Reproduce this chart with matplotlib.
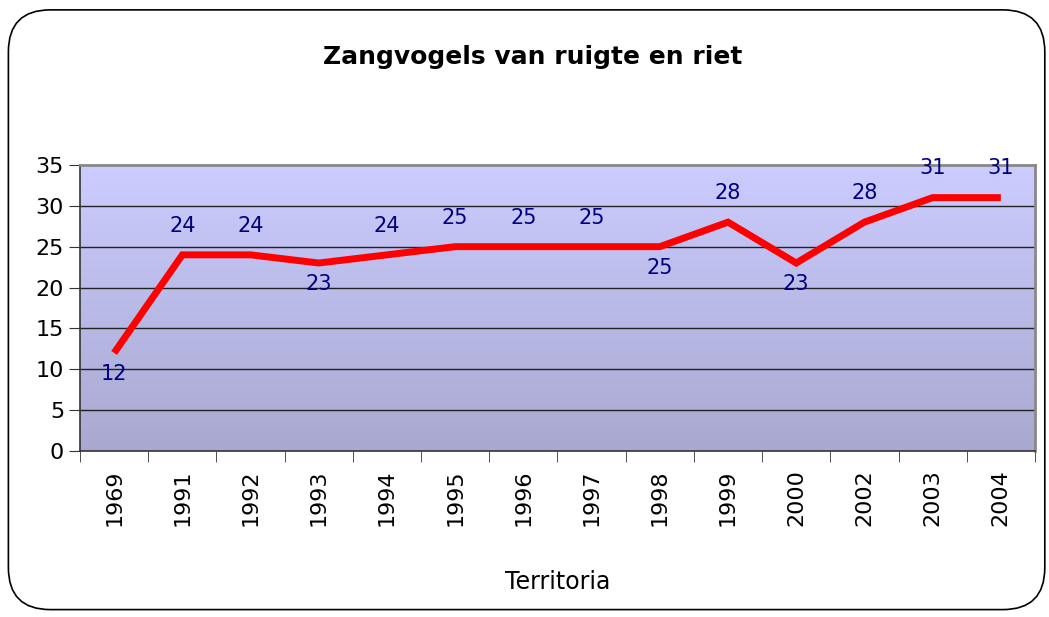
import matplotlib
matplotlib.use("Agg")
import matplotlib.pyplot as plt
from matplotlib.patches import FancyBboxPatch
import numpy as np

years = ["1969", "1991", "1992", "1993", "1994", "1995", "1996", "1997",
         "1998", "1999", "2000", "2002", "2003", "2004"]
territoria = [12, 24, 24, 23, 24, 25, 25, 25, 25, 28, 23, 28, 31, 31]
# label above (+1) or below (-1) the point
label_side = [-1, 1, 1, -1, 1, 1, 1, 1, -1, 1, -1, 1, 1, 1]

fig = plt.figure(figsize=(10.49, 6.17), dpi=100)

# rounded outer frame
frame = FancyBboxPatch((0.008, 0.012), 0.988, 0.972,
                       boxstyle="round,pad=0,rounding_size=0.04",
                       transform=fig.transFigure, facecolor="white",
                       edgecolor="black", linewidth=1.2, zorder=-10,
                       mutation_aspect=1049 / 617)
fig.patches.append(frame)

ax = fig.add_axes([0.0763, 0.269, 0.9103, 0.4637])
x = np.arange(len(years))
ax.set_xlim(-0.5, len(years) - 0.5)
ax.set_ylim(0, 35)

# gradient background
grad = np.linspace(0, 1, 256).reshape(-1, 1)
top = np.array([204, 204, 255]) / 255
bot = np.array([168, 168, 208]) / 255
img = top * (1 - grad)[..., None] + bot * grad[..., None]
img = img.reshape(256, 1, 3)
ax.imshow(img, extent=[-0.5, len(years) - 0.5, 0, 35], aspect="auto",
          origin="upper", zorder=0)

for yv in range(5, 35, 5):
    ax.axhline(yv, color="#222222", linewidth=1.0, zorder=1)

ax.plot(x, territoria, color="#ff0000", linewidth=5, solid_capstyle="butt",
        solid_joinstyle="miter", zorder=3)

for xi, v, s in zip(x, territoria, label_side):
    off = 21 if s > 0 else -15
    ax.annotate(str(v), (xi, v), xytext=(0, off), textcoords="offset points",
                ha="center", va="center", fontsize=15, color="#000080", zorder=4)

ax.set_yticks(range(0, 36, 5))
ax.set_xticks(x)
ax.set_xticklabels(years, rotation=90, fontsize=16)
ax.set_xticks(np.arange(-0.5, len(years), 1), minor=True)
ax.tick_params(axis="x", which="major", length=0, pad=13)
ax.tick_params(axis="x", which="minor", length=8, direction="out", color="#333333")
ax.tick_params(axis="y", length=8, direction="out", labelsize=16, color="#333333")

for side in ["left", "bottom"]:
    ax.spines[side].set_color("#333333")
    ax.spines[side].set_linewidth(1.2)
for side in ["right", "top"]:
    ax.spines[side].set_color("#888888")
    ax.spines[side].set_linewidth(2)

ax.set_xlabel("Territoria", fontsize=17, labelpad=32)
fig.text(0.508, 0.908, "Zangvogels van ruigte en riet", ha="center", va="center",
         fontsize=18, fontweight="bold")

fig.savefig("out.png", dpi=100)
